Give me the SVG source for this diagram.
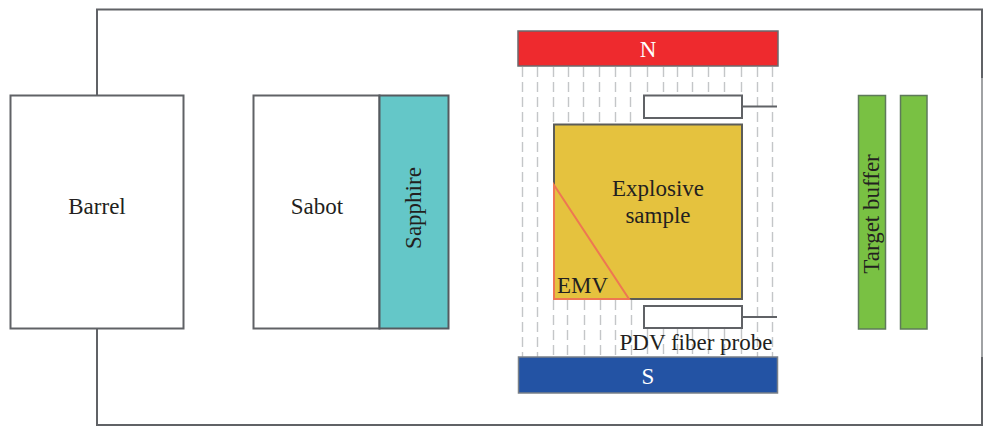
<svg xmlns="http://www.w3.org/2000/svg" width="984" height="426" viewBox="0 0 984 426">
<style>
text{font-family:"Liberation Serif","Times New Roman",serif;fill:#231f20;font-size:23px;text-anchor:middle}
.b{stroke:#606266;stroke-width:2;fill:#fff}
.d{stroke:#c4c6c8;stroke-width:1.4;stroke-dasharray:10 5;fill:none}
</style>
<rect width="984" height="426" fill="#fff"/>
<g id="chamber"><path d="M97 95V9.500H982V425H97V329" fill="none" stroke="#606266" stroke-width="2"/><path d="M982 78V357" fill="none" stroke="#a0a2a4" stroke-width="2"/></g>
<g id="connectors">
<path class="d" d="M522.500 67V357M537.500 67V357M757.500 67V357M772.500 67V357"/>
<path class="d" d="M553.500 67V124M568.500 67V124M583.500 67V124M599.500 67V124M615.500 67V124M630.500 67V124"/>
<path class="d" d="M647.500 67V95M663.500 67V95M677.500 67V95M692.500 67V95M708.500 67V95M724.500 67V95M741.500 67V95"/>
<path class="d" d="M553.500 300V357M567.500 300V357M584.500 300V357M600.500 300V357M615.500 300V357M631.500 300V357"/>
<path class="d" d="M647.500 329V357M663.500 329V357M677.500 329V357M692.500 329V357M708.500 329V357M724.500 329V357M741.500 329V357"/>
<path d="M742 106.500H777M742 317H777" fill="none" stroke="#606266" stroke-width="2"/>
</g>
<g id="barrel"><rect class="b" x="10.500" y="95.500" width="173" height="233"/><text x="97" y="214">Barrel</text></g>
<g id="sabot"><rect class="b" x="253.500" y="95.500" width="126" height="233"/><text x="317" y="214">Sabot</text></g>
<g id="sapphire"><rect x="379.500" y="95.500" width="69" height="233" fill="#64c7c8" stroke="#555a5f" stroke-width="2"/><text transform="translate(420.500 208) rotate(-90)">Sapphire</text></g>
<g id="magnet-n"><rect x="518" y="31" width="260" height="35" fill="#ee2a2e" stroke="#6a6a6e" stroke-width="1.500"/><text x="648" y="56.500" style="fill:#fff">N</text></g>
<g id="magnet-s"><rect x="518.500" y="357" width="259" height="36" fill="#2353a4" stroke="#7a8088" stroke-width="1.500"/><text x="648" y="384" style="fill:#fff">S</text></g>
<g id="explosive-sample"><rect x="554" y="124.500" width="188" height="174.500" fill="#e5c23e" stroke="#5c5c58" stroke-width="2"/><text x="658" y="195.500">Explosive</text><text x="658" y="222.500">sample</text></g>
<g id="emv"><path d="M554 185L629 299H554Z" fill="#e5c23e" stroke="#ee7752" stroke-width="2"/><text x="582.500" y="293">EMV</text></g>
<g id="probe-top"><rect class="b" x="644" y="95.500" width="98" height="22.500"/></g>
<g id="probe-bottom"><rect class="b" x="644" y="306" width="98" height="22"/><text x="696" y="349.500">PDV fiber probe</text></g>
<g id="target-buffer"><rect x="858.500" y="95.500" width="27" height="233.500" fill="#79c143" stroke="#5e7a5a" stroke-width="1.500"/><text transform="translate(879 214) rotate(-90)">Target buffer</text></g>
<g id="target-buffer-2"><rect x="900.500" y="95.500" width="26.500" height="233.500" fill="#79c143" stroke="#5e7a5a" stroke-width="1.500"/></g>
</svg>
